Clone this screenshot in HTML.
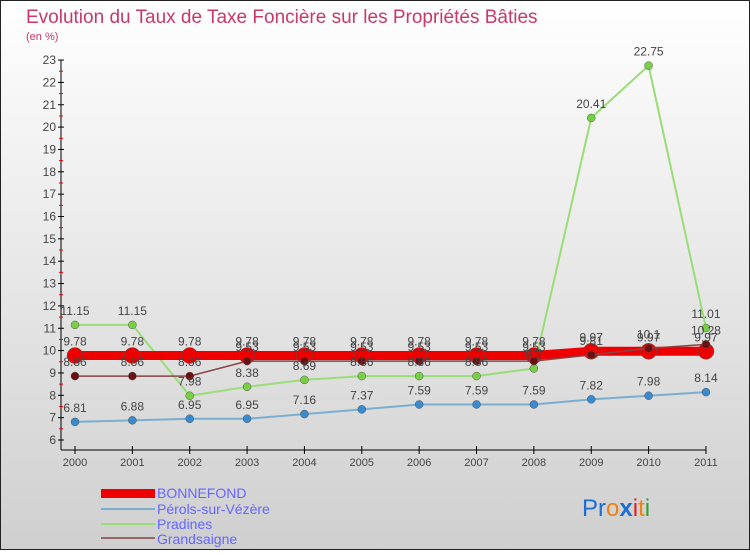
<!DOCTYPE html>
<html><head><meta charset="utf-8"><style>
body{margin:0}
svg text{font-family:"Liberation Sans","DejaVu Sans",sans-serif}
</style></head><body>
<svg id="c" width="750" height="550" xmlns="http://www.w3.org/2000/svg">
<defs><linearGradient id="bg" x1="0" y1="0" x2="0" y2="1"><stop offset="0" stop-color="#ffffff"/><stop offset="1" stop-color="#cfcfcf"/></linearGradient></defs>
<rect x="0.5" y="0.5" width="749" height="549" fill="url(#bg)" stroke="#222"/>
<text x="26" y="23" font-size="19" fill="#c8386a">Evolution du Taux de Taxe Foncière sur les Propriétés Bâties</text>
<text x="26" y="40" font-size="11" fill="#c8386a">(en %)</text>
<g id="axes"></g><g id="series"></g><g id="labels"></g>
<g>
<rect x="101" y="489" width="54" height="9" fill="#e00"/>
<text x="157" y="498" font-size="14" fill="#6666ff">BONNEFOND</text>
<line x1="101" y1="509" x2="155" y2="509" stroke="#7aaed0" stroke-width="2"/>
<text x="157" y="514" font-size="14" fill="#6666ff">Pérols-sur-Vézère</text>
<line x1="101" y1="524" x2="155" y2="524" stroke="#99dd77" stroke-width="2"/>
<text x="157" y="529" font-size="14" fill="#6666ff">Pradines</text>
<line x1="101" y1="538" x2="155" y2="538" stroke="#996666" stroke-width="2"/>
<text x="157" y="544" font-size="14" fill="#6666ff">Grandsaigne</text>
</g>
<text x="582" y="516" font-size="24"><tspan fill="#1a6fd0">Pr</tspan><tspan fill="#f08010">o</tspan><tspan fill="#1a6fd0" font-weight="bold">x</tspan><tspan fill="#e02020">i</tspan><tspan fill="#f08010">t</tspan><tspan fill="#30a030">i</tspan></text>
</svg>
<script>
const years=["2000","2001","2002","2003","2004","2005","2006","2007","2008","2009","2010","2011"];
const bonnefond=[9.78,9.78,9.78,9.78,9.78,9.78,9.78,9.78,9.78,9.97,9.97,9.97];
const perols=[6.81,6.88,6.95,6.95,7.16,7.37,7.59,7.59,7.59,7.82,7.98,8.14];
const pradines=[11.15,11.15,7.98,8.38,8.69,8.86,8.86,8.86,9.2,20.41,22.75,11.01];
const grandsaigne=[8.86,8.86,8.86,9.53,9.53,9.53,9.53,9.53,9.53,9.81,10.1,10.28];
const yTicks=[6,7,8,9,10,11,12,13,14,15,16,17,18,19,20,21,22,23];
const NS="http://www.w3.org/2000/svg";
const X=i=>75+i*57.36, Y=v=>440-(v-6)*22.35;
function mk(t,a,p){const e=document.createElementNS(NS,t);for(const k in a)e.setAttribute(k,a[k]);p.appendChild(e);return e;}
const ax=document.getElementById('axes'),sg=document.getElementById('series'),lg=document.getElementById('labels');
let l=mk('line',{x1:61,y1:60,x2:61,y2:450,stroke:'#000'},ax);


l=mk('line',{x1:61,y1:450,x2:706,y2:450,stroke:'#000'},ax);


yTicks.forEach(v=>{
 mk('line',{x1:58,y1:Y(v),x2:64,y2:Y(v),stroke:'#000'},ax);
 if(v<23)mk('line',{x1:59,y1:Y(v+0.5),x2:63,y2:Y(v+0.5),stroke:'#e00'},ax);
 const t=mk('text',{x:56,y:Y(v)+4,'font-size':12,'text-anchor':'end',fill:'#444'},ax);t.textContent=v;
 
 
});
years.forEach((y,i)=>{
 mk('line',{x1:X(i),y1:446,x2:X(i),y2:454,stroke:'#000'},ax);
 const t=mk('text',{x:X(i),y:466,'font-size':11,'text-anchor':'middle',fill:'#444'},ax);t.textContent=y;
 
 
});
function series(d,name,col,w,r,dot){
 const p=mk('polyline',{points:d.map((v,i)=>X(i)+','+Y(v)).join(' '),fill:'none',stroke:col,'stroke-width':w},sg);
 
 
 d.forEach((v,i)=>{
  const c=mk('circle',{cx:X(i),cy:Y(v),r:r,fill:dot,stroke:'#555','stroke-width':0.5},sg);
  
  
  const t=mk('text',{x:X(i),y:Y(v)-10,'font-size':12,'text-anchor':'middle',fill:'#444'},lg);t.textContent=v;
  
  
 });
}
series(perols,'perols','#7aaed0',2,4,'#3a8ad0');
series(pradines,'pradines','#99dd77',2,4,'#77d044');
series(bonnefond,'bonnefond','#ee0000',9,8,'#ee0000');
series(grandsaigne,'grandsaigne','#884444',1.5,4,'#6a1010');
</script>
</body></html>
